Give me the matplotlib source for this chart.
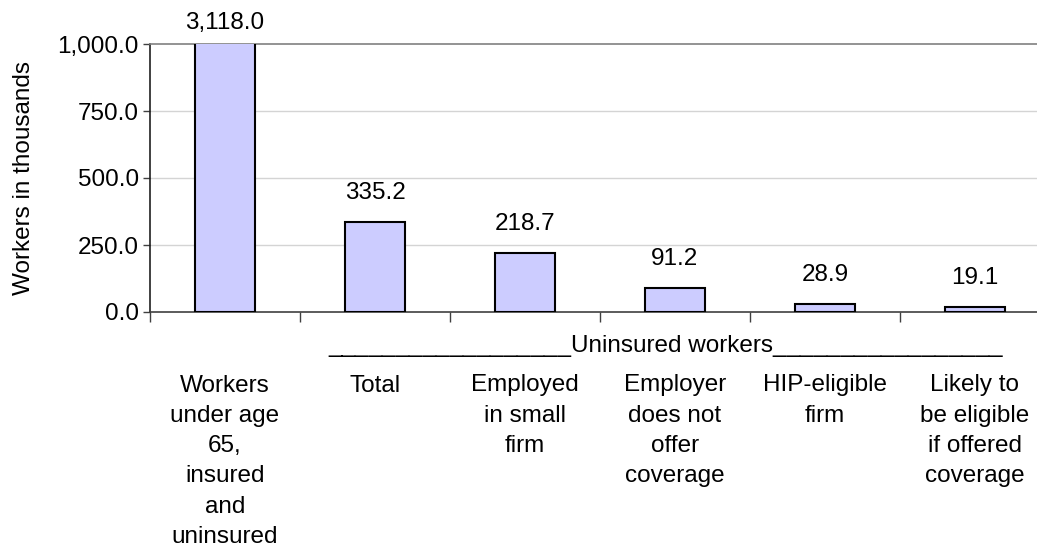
import matplotlib
matplotlib.use("Agg")
import matplotlib.pyplot as plt
from matplotlib.ticker import FuncFormatter, FixedLocator

plt.rcParams['font.family'] = ['Liberation Sans', 'DejaVu Sans']

# Workers (thousands) by group
categories = [
    "Workers\nunder age\n65,\ninsured\nand\nuninsured",
    "Total",
    "Employed\nin small\nfirm",
    "Employer\ndoes not\noffer\ncoverage",
    "HIP-eligible\nfirm",
    "Likely to\nbe eligible\nif offered\ncoverage",
]
values = [3118.0, 335.2, 218.7, 91.2, 28.9, 19.1]
y_ticks = [0, 250, 500, 750, 1000]
group_label = "Uninsured workers"

FS = 17.5
W, H = 1037, 560
fig = plt.figure(figsize=(W / 100, H / 100), dpi=100)
ax = fig.add_axes([150 / W, (H - 312) / H, 900 / W, 268 / H])

x = list(range(len(values)))
ymax = y_ticks[-1]
ax.bar(x, values, width=0.4, color="#CCCCFF", edgecolor="black",
       linewidth=1.5, zorder=3)

ax.set_xlim(-0.5, len(values) - 0.5)
ax.set_ylim(0, ymax)

# value labels; the tall bar is cut at the top of the axis
for xi, v in zip(x, values):
    clipped = v > ymax
    ax.annotate(f"{v:,.1f}", xy=(xi, min(v, ymax)),
                xytext=(0, 10.8 if clipped else 16.6), textcoords="offset points",
                ha="center", va="baseline", fontsize=FS, color="black",
                annotation_clip=False)

# y axis
ax.yaxis.set_major_locator(FixedLocator(y_ticks))
ax.yaxis.set_major_formatter(FuncFormatter(lambda v, p: f"{v:,.1f}"))
ax.tick_params(axis="y", length=5, width=1, color="#404040", pad=3,
               labelsize=FS, direction="out")
ax.set_ylabel("Workers in thousands", fontsize=FS, labelpad=16)

# gridlines
for t in y_ticks[1:-1]:
    ax.axhline(t, color="#D4D4D4", linewidth=1.0, zorder=1)

# x axis: ticks between categories, labels under each bar
ax.xaxis.set_major_locator(FixedLocator([i - 0.5 for i in range(len(values) + 1)]))
ax.xaxis.set_major_formatter(FuncFormatter(lambda v, p: ""))
ax.xaxis.set_minor_locator(FixedLocator(x))
ax.set_xticklabels(categories, minor=True, fontsize=FS, linespacing=1.49)
ax.tick_params(axis="x", which="major", length=7, width=1, color="#404040",
               direction="out")
ax.tick_params(axis="x", which="minor", length=0, pad=45)

ax.spines["right"].set_visible(False)
ax.spines["top"].set_color("#808080")
ax.spines["top"].set_linewidth(1.2)
ax.spines["bottom"].set_color("#404040")
ax.spines["bottom"].set_linewidth(1.2)
ax.spines["left"].set_color("#202020")
ax.spines["left"].set_linewidth(1.2)

# bracket-style caption over the uninsured groups
ax.text(2.94, -0.149, "_" * 18 + group_label + "_" * 17,
        transform=ax.get_xaxis_transform(), ha="center", va="baseline",
        fontsize=FS, color="black", clip_on=False)

fig.savefig("out.png", dpi=100)
